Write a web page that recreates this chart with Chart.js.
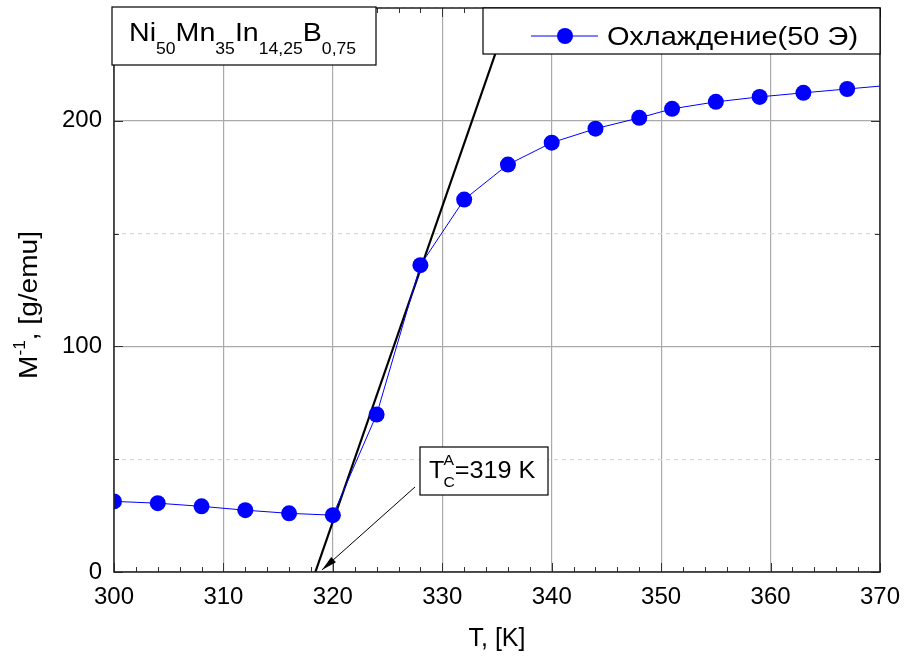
<!DOCTYPE html>
<html>
<head>
<meta charset="utf-8">
<script src="https://cdn.jsdelivr.net/npm/chart.js@4/dist/chart.umd.min.js"></script>
<style>
  html, body { margin: 0; padding: 0; background: #fff; }
  #wrap { width: 905px; height: 660px; }
</style>
</head>
<body>
<div id="wrap"><canvas id="chart"></canvas></div>
<script>
const temps = [300, 304, 308, 312, 316, 320, 324, 328, 332, 336, 340, 344, 348, 351, 355, 359, 363, 367, 371];
const invM = [31.3, 30.5, 29.1, 27.4, 26.0, 25.2, 69.8, 136.0, 165.1, 180.6, 190.3, 196.5, 201.3, 205.3, 208.4, 210.6, 212.4, 214.1, 215.8];
// linear fit through the steep part, crossing zero at T_C
const tangentT = [318.4, 336.3];
const tangentM = [0, 250];
const xTicks = [300, 310, 320, 330, 340, 350, 360, 370];
const yTickLabels = [0, 100, 200];
const seriesName = 'Охлаждение(50 Э)';

const FONT = '"Liberation Sans", Arial, sans-serif';
const BLUE = '#0000ff';

// text drawn slightly wider than the stock font
function wideText(ctx, txt, x, y, sx) {
    ctx.save();
    ctx.translate(x, y);
    ctx.scale(sx, 1);
    ctx.fillText(txt, 0, 0);
    ctx.restore();
    return ctx.measureText(txt).width * sx;
}

const boxesPlugin = {
    id: 'boxes',
    afterDraw(chart) {
        const { ctx, chartArea: a, scales: { x, y } } = chart;
        ctx.save();

        // inward ticks on all four sides
        ctx.strokeStyle = '#333';
        ctx.lineWidth = 1;
        for (let t = 300; t <= 370; t += 2) {
            const px = Math.round(x.getPixelForValue(t)) + 0.5;
            const len = t % 10 === 0 ? 9 : 5;
            ctx.beginPath();
            ctx.moveTo(px, a.bottom); ctx.lineTo(px, a.bottom - len);
            ctx.moveTo(px, a.top); ctx.lineTo(px, a.top + len);
            ctx.stroke();
        }
        for (let v = 0; v <= 250; v += 50) {
            const py = Math.round(y.getPixelForValue(v)) + 0.5;
            const len = v % 100 === 0 ? 9 : 5;
            ctx.beginPath();
            ctx.moveTo(a.left, py); ctx.lineTo(a.left + len, py);
            ctx.moveTo(a.right, py); ctx.lineTo(a.right - len, py);
            ctx.stroke();
        }

        // frame
        ctx.strokeStyle = '#222';
        ctx.lineWidth = 1.5;
        ctx.strokeRect(a.left, a.top, a.right - a.left, a.bottom - a.top);

        // composition box
        ctx.fillStyle = '#fff';
        ctx.strokeStyle = '#000';
        ctx.lineWidth = 1.2;
        ctx.fillRect(a.left - 2, a.top - 1, 264, 58);
        ctx.strokeRect(a.left - 2, a.top - 1, 264, 58);
        ctx.fillStyle = '#000';
        ctx.textBaseline = 'alphabetic';
        ctx.textAlign = 'left';
        let cx = a.left + 15;
        const parts = [['Ni', false], ['50', true], ['Mn', false], ['35', true], ['In', false], ['14,25', true], ['B', false], ['0,75', true]];
        parts.forEach(([txt, sub]) => {
            ctx.font = (sub ? '16px ' : '26px ') + FONT;
            cx += wideText(ctx, txt, cx, sub ? a.top + 46 : a.top + 33, 1.1);
        });

        // legend box
        const lx = 483, lw = a.right - lx, lh = 46;
        ctx.fillStyle = '#fff';
        ctx.fillRect(lx, a.top, lw, lh);
        ctx.strokeRect(lx, a.top, lw, lh);
        const ly = a.top + 28;
        ctx.strokeStyle = BLUE;
        ctx.lineWidth = 1;
        ctx.beginPath();
        ctx.moveTo(531, ly); ctx.lineTo(598, ly);
        ctx.stroke();
        ctx.fillStyle = BLUE;
        ctx.beginPath();
        ctx.arc(565, ly, 8, 0, Math.PI * 2);
        ctx.fill();
        ctx.fillStyle = '#000';
        ctx.font = '25px ' + FONT;
        wideText(ctx, seriesName, 607, ly + 9, 1.16);

        // T_C annotation with arrow
        const tipX = x.getPixelForValue(319), tipY = y.getPixelForValue(0) - 2;
        const fromX = 415, fromY = 487;
        ctx.strokeStyle = '#000';
        ctx.lineWidth = 1;
        ctx.beginPath();
        ctx.moveTo(fromX, fromY); ctx.lineTo(tipX, tipY);
        ctx.stroke();
        const ang = Math.atan2(tipY - fromY, tipX - fromX);
        ctx.fillStyle = '#000';
        ctx.beginPath();
        ctx.moveTo(tipX, tipY);
        ctx.lineTo(tipX - 16 * Math.cos(ang - 0.22), tipY - 16 * Math.sin(ang - 0.22));
        ctx.lineTo(tipX - 16 * Math.cos(ang + 0.22), tipY - 16 * Math.sin(ang + 0.22));
        ctx.closePath();
        ctx.fill();

        const bx = 420, by = 447;
        ctx.fillStyle = '#fff';
        ctx.fillRect(bx, by, 128, 48);
        ctx.strokeStyle = '#000';
        ctx.lineWidth = 1.2;
        ctx.strokeRect(bx, by, 128, 48);
        ctx.fillStyle = '#000';
        ctx.font = '24px ' + FONT;
        let ax = bx + 9;
        ax += wideText(ctx, 'T', ax, by + 31, 1.05);
        ctx.font = '15px ' + FONT;
        wideText(ctx, 'A', ax - 1, by + 18, 1.05);
        ax += wideText(ctx, 'C', ax - 1, by + 40, 1.05) - 1;
        ctx.font = '24px ' + FONT;
        wideText(ctx, '=319 K', ax, by + 31, 1.05);

        // axis titles
        ctx.font = '25px ' + FONT;
        ctx.textAlign = 'center';
        ctx.fillText('T, [K]', (a.left + a.right) / 2, 646);

        ctx.translate(37, 305);
        ctx.rotate(-Math.PI / 2);
        ctx.textAlign = 'left';
        const m = 'M', rest = ', [g/emu]';
        ctx.font = '26px ' + FONT;
        const mw = ctx.measureText(m).width;
        ctx.font = '16px ' + FONT;
        const supw = ctx.measureText('-1').width;
        ctx.font = '26px ' + FONT;
        const total = (mw + supw + ctx.measureText(rest).width) * 1.08;
        let tx = -total / 2;
        tx += wideText(ctx, m, tx, 0, 1.08);
        ctx.font = '16px ' + FONT;
        tx += wideText(ctx, '-1', tx, -12, 1.08);
        ctx.font = '26px ' + FONT;
        wideText(ctx, rest, tx, 0, 1.08);

        ctx.restore();
    }
};

new Chart(document.getElementById('chart'), {
    type: 'line',
    data: {
        datasets: [
            {
                label: seriesName,
                data: temps.map((t, i) => ({ x: t, y: invM[i] })),
                borderColor: BLUE,
                backgroundColor: BLUE,
                borderWidth: 1,
                pointRadius: 8,
                pointBorderWidth: 0,
                tension: 0
            },
            {
                label: 'fit',
                data: tangentT.map((t, i) => ({ x: t, y: tangentM[i] })),
                borderColor: '#000',
                borderWidth: 2.2,
                pointRadius: 0,
                tension: 0
            }
        ]
    },
    options: {
        responsive: true,
        maintainAspectRatio: false,
        animation: false,
        devicePixelRatio: 1,
        layout: { padding: { top: 4, right: 25, left: 0, bottom: 0 } },
        plugins: { legend: { display: false }, tooltip: { enabled: false } },
        scales: {
            x: {
                type: 'linear',
                min: 300,
                max: 370,
                afterFit: s => { s.height = 88; s.paddingLeft = 0; s.paddingRight = 0; },
                afterBuildTicks: s => { s.ticks = xTicks.map(v => ({ value: v })); },
                ticks: { color: '#000', font: { family: FONT, size: 24 }, padding: 11 },
                grid: { color: '#aaa', lineWidth: 1.2, drawTicks: false },
                border: { display: false }
            },
            y: {
                type: 'linear',
                min: 0,
                max: 250,
                afterFit: s => { s.width = 114; s.paddingTop = 0; s.paddingBottom = 0; },
                ticks: {
                    stepSize: 50,
                    color: '#000',
                    font: { family: FONT, size: 24 },
                    padding: 12,
                    callback: v => yTickLabels.includes(v) ? v : ''
                },
                grid: {
                    color: c => c.tick && c.tick.value % 100 === 0 ? '#aaa' : '#d8d8d8',
                    lineWidth: 1.2,
                    drawTicks: false
                },
                border: {
                    display: false,
                    dash: c => c.tick && c.tick.value % 100 === 0 ? [] : [4, 4]
                }
            }
        }
    },
    plugins: [boxesPlugin]
});
</script>
</body>
</html>
